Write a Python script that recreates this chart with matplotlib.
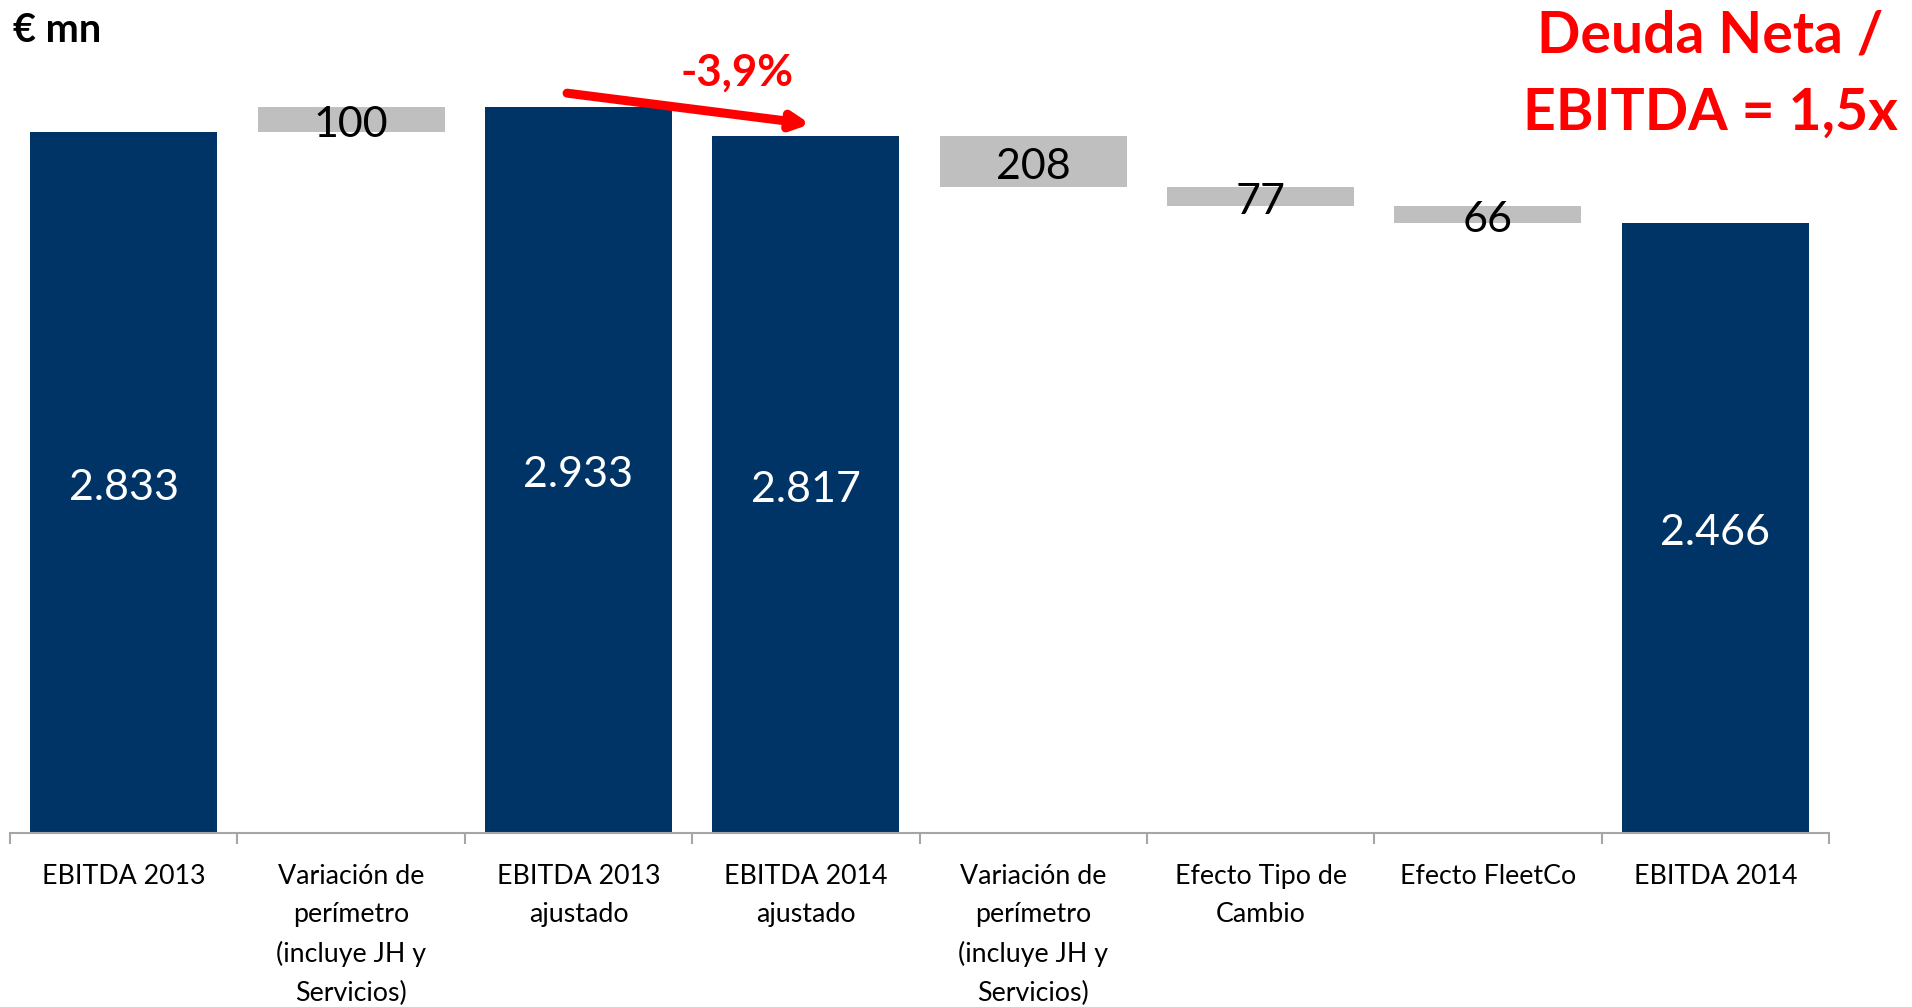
import numpy as np
import matplotlib
matplotlib.use("Agg")
import matplotlib.pyplot as plt

# ---- data ----
categories = [
    "EBITDA 2013",
    "Variación de\nperímetro\n(incluye JH y\nServicios)",
    "EBITDA 2013\najustado",
    "EBITDA 2014\najustado",
    "Variación de\nperímetro\n(incluye JH y\nServicios)",
    "Efecto Tipo de\nCambio",
    "Efecto FleetCo",
    "EBITDA 2014",
]
values = [2833, 100, 2933, 2817, -208, -77, -66, 2466]
is_total = [True, False, True, True, False, False, False, True]
change_label = "-3,9%"
ratio_lines = ["Deuda Neta /", "EBITDA = 1,5x"]
unit_label = "€ mn"

NAVY = "#003366"
GREY = "#BFBFBF"
AXIS = "#A6A6A6"
RED = "#FF0000"
FONT = ["Lato", "DejaVu Sans"]

plt.rcParams["font.family"] = FONT

W, H = 1912, 1007
fig = plt.figure(figsize=(W / 100, H / 100), dpi=100)
base_px = 832.5
ax = fig.add_axes([10 / W, (H - base_px) / H, 1819 / W, base_px / H])
ax.set_xlim(-0.5, len(categories) - 0.5)
ax.set_ylim(0, 3366.7)

x = np.arange(len(categories))
running = 0
bottoms, heights = [], []
for v, tot in zip(values, is_total):
    if tot:
        bottoms.append(0)
        heights.append(v)
        running = v
    else:
        if v >= 0:
            bottoms.append(running)
            heights.append(v)
        else:
            bottoms.append(running + v)
            heights.append(-v)
        running += v

colors = [NAVY if t else GREY for t in is_total]
ax.bar(x, heights, bottom=bottoms, width=0.822, color=colors, linewidth=0)

def fmt(v):
    return f"{abs(v):,}".replace(",", ".")

for xi, b, h, t, v in zip(x, bottoms, heights, is_total, values):
    ax.annotate(fmt(v), xy=(xi, b + h / 2), xytext=(0, -4),
                textcoords="offset points", ha="center", va="center",
                color="white" if t else "black", fontsize=31)

# arrow between adjusted EBITDAs
ax.annotate("", xy=(3.02, values[3] + 48), xytext=(1.95, values[2] + 57),
            arrowprops=dict(arrowstyle="-|>,head_length=1.0,head_width=0.5",
                            color=RED, lw=6.5, shrinkA=0, shrinkB=0))
fig.text(737 / W, 1 - 85.5 / H, change_label, ha="center", va="baseline",
         color=RED, fontsize=31.5, fontweight="bold")

# axes styling
for s in ["left", "top", "right"]:
    ax.spines[s].set_visible(False)
ax.spines["bottom"].set_color(AXIS)
ax.spines["bottom"].set_linewidth(1.5)
ax.set_yticks([])
ax.set_xticks(x)
ax.set_xticklabels(categories, fontsize=19.3, linespacing=1.67, va="top")
ax.tick_params(axis="x", which="major", length=0, pad=22.5)
ax.set_xticks(np.arange(-0.5, len(categories), 1), minor=True)
ax.tick_params(axis="x", which="minor", length=8, width=1.5, color=AXIS)

fig.text(13 / W, 1 - 42 / H, unit_label, ha="left", va="baseline",
         fontsize=28.5, fontweight="bold", color="black")
fig.text(1710 / W, 1 - 53 / H, ratio_lines[0], ha="center", va="baseline",
         fontsize=41, fontweight="bold", color=RED)
fig.text(1710 / W, 1 - 130 / H, ratio_lines[1], ha="center", va="baseline",
         fontsize=41, fontweight="bold", color=RED)

fig.savefig("out.png", dpi=100)
